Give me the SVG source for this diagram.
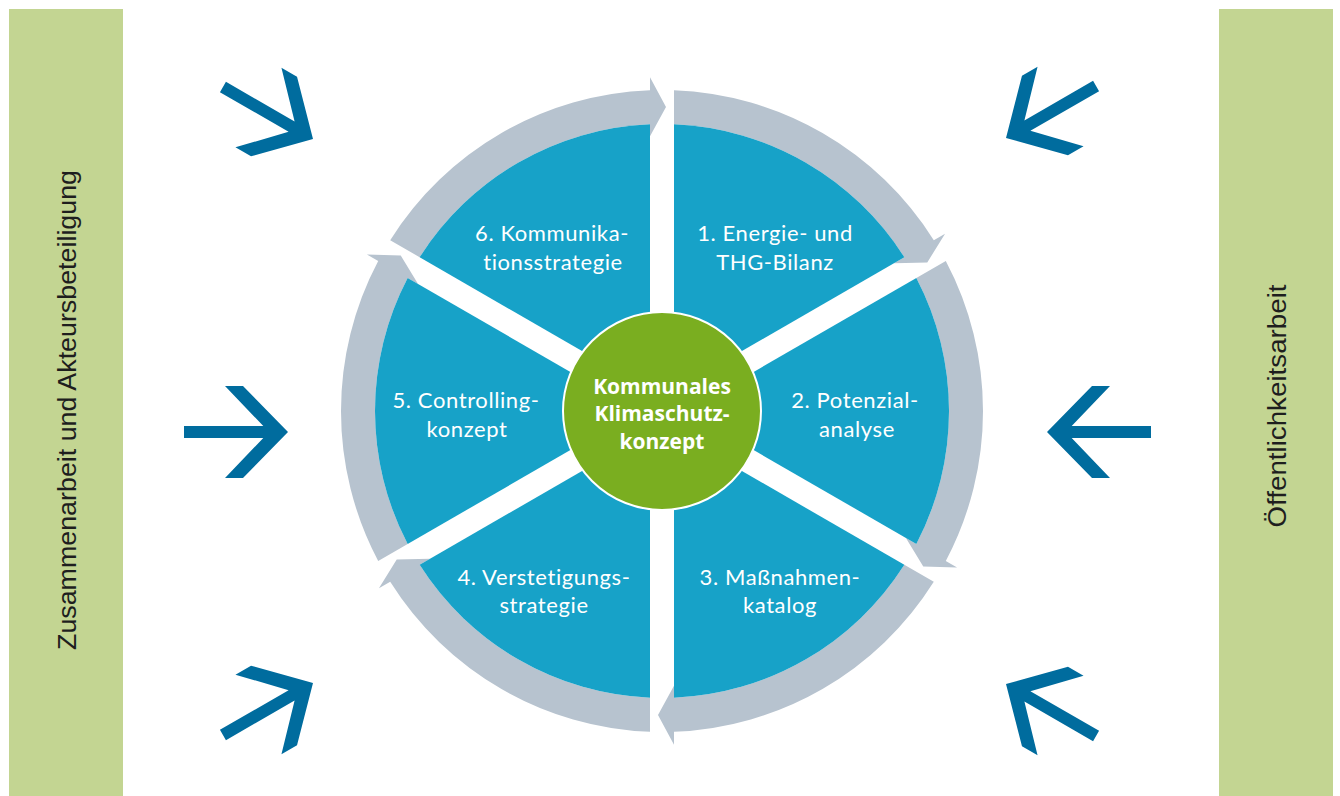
<svg xmlns="http://www.w3.org/2000/svg" width="1340" height="796" viewBox="0 0 1340 796">
<style>
.bar{fill:#c3d592}
.bartxt{font-family:"Liberation Sans",Arial,sans-serif;font-size:26px;fill:#1e1e1e;text-anchor:middle}
.sector{fill:#17a2c8}
.ring{fill:#b7c3cf}
.lbl{font-family:Lato,"Open Sans",sans-serif;font-size:22px;letter-spacing:0.6px;fill:#ffffff;text-anchor:middle}
.ctr{font-family:"Open Sans",Lato,sans-serif;font-size:21px;font-weight:bold;fill:#ffffff;text-anchor:middle}
.barrow{fill:#006c9e}
</style>
<defs>
<path id="seg" d="M12,-320.776 A321,321 0 0 1 271.8,-170.78 L283.065,-177.284 L265.272,-148.536 L231.93,-147.761 L242.333,-153.767 A287,287 0 0 0 12,-286.749 Z"/>
<path id="sec" d="M12,-20.78 L12,-286.749 A287,287 0 0 1 242.333,-153.767 Z"/>
<path id="arr" d="M-104,-6 H-24.7 L-63,-46 H-45 L0,0 L-45,46 H-63 L-24.7,6 H-104 Z"/>
</defs>
<rect width="1340" height="796" fill="#ffffff"/>
<g id="bar-left">
<rect class="bar" x="9" y="9" width="114" height="787"/>
<text class="bartxt" transform="translate(76,410) rotate(-90)" textLength="480" lengthAdjust="spacingAndGlyphs">Zusammenarbeit und Akteursbeteiligung</text>
</g>
<g id="bar-right">
<rect class="bar" x="1219" y="9" width="114" height="787"/>
<text class="bartxt" transform="translate(1286,406) rotate(-90)" textLength="243" lengthAdjust="spacingAndGlyphs">Öffentlichkeitsarbeit</text>
</g>
<g id="connectors">
<g class="ring" transform="translate(662,411)">
<use href="#seg"/>
<use href="#seg" transform="rotate(60)"/>
<use href="#seg" transform="rotate(120)"/>
<use href="#seg" transform="rotate(180)"/>
<use href="#seg" transform="rotate(240)"/>
<use href="#seg" transform="rotate(300)"/>
</g>
<g class="barrow">
<use href="#arr" transform="translate(313,139) rotate(30)"/>
<use href="#arr" transform="translate(288,432)"/>
<use href="#arr" transform="translate(313,683) rotate(-30)"/>
<use href="#arr" transform="translate(1006,138) scale(-1,1) rotate(30)"/>
<use href="#arr" transform="translate(1047,432) scale(-1,1)"/>
<use href="#arr" transform="translate(1006,684) scale(-1,1) rotate(-30)"/>
</g>
</g>
<g id="step1">
<use class="sector" href="#sec" transform="translate(662,411)"/>
<text class="lbl" x="775" y="241">1. Energie- und</text>
<text class="lbl" x="775" y="270">THG-Bilanz</text>
</g>
<g id="step2">
<use class="sector" href="#sec" transform="translate(662,411) rotate(60)"/>
<text class="lbl" x="855" y="408">2. Potenzial-</text>
<text class="lbl" x="857" y="437">analyse</text>
</g>
<g id="step3">
<use class="sector" href="#sec" transform="translate(662,411) rotate(120)"/>
<text class="lbl" x="780" y="585">3. Maßnahmen-</text>
<text class="lbl" x="780" y="613">katalog</text>
</g>
<g id="step4">
<use class="sector" href="#sec" transform="translate(662,411) rotate(180)"/>
<text class="lbl" x="544" y="585">4. Verstetigungs-</text>
<text class="lbl" x="544" y="613">strategie</text>
</g>
<g id="step5">
<use class="sector" href="#sec" transform="translate(662,411) rotate(240)"/>
<text class="lbl" x="466" y="408">5. Controlling-</text>
<text class="lbl" x="467" y="437">konzept</text>
</g>
<g id="step6">
<use class="sector" href="#sec" transform="translate(662,411) rotate(300)"/>
<text class="lbl" x="552" y="241">6. Kommunika-</text>
<text class="lbl" x="553" y="270">tionsstrategie</text>
</g>
<g id="center">
<circle cx="662" cy="411" r="99" fill="#7aae20" stroke="#ffffff" stroke-width="2"/>
<text class="ctr" x="662" y="394">Kommunales</text>
<text class="ctr" x="662" y="421">Klimaschutz-</text>
<text class="ctr" x="662" y="449">konzept</text>
</g>
</svg>
